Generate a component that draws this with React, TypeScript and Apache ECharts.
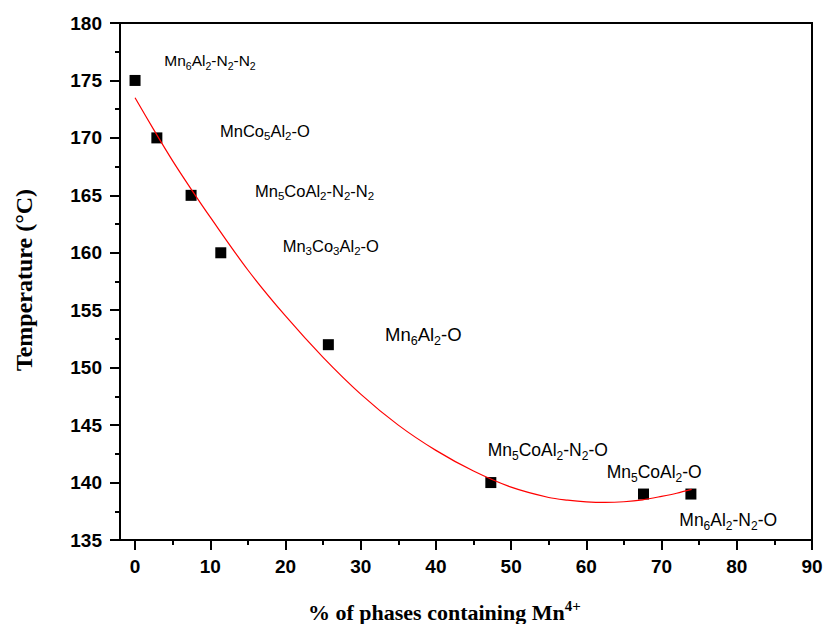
import React, { useEffect, useRef } from "react";
import * as echarts from "echarts";

// ---- data ----
const xTicks = [0, 10, 20, 30, 40, 50, 60, 70, 80, 90];
const xMinorTicks = [5, 15, 25, 35, 45, 55, 65, 75, 85];
const phaseMn4 = [0, 2.9, 7.45, 11.4, 25.7, 47.3, 67.6, 73.9];
const temperature = [175, 170, 165, 160, 152, 140, 139, 139];
const samples = [
  "Mn_6Al_2-N_2-N_2",
  "MnCo_5Al_2-O",
  "Mn_5CoAl_2-N_2-N_2",
  "Mn_3Co_3Al_2-O",
  "Mn_6Al_2-O",
  "Mn_5CoAl_2-N_2-O",
  "Mn_5CoAl_2-O",
  "Mn_6Al_2-N_2-O",
];
const fitX = [0, 2.5, 5, 7.5, 10, 15, 20, 25, 30, 35, 40, 45, 50, 55, 57.5, 60, 62.5, 65, 67.5, 70, 72, 74];
const fitY = [173.5, 170.7, 168.0, 165.5, 163.1, 158.5, 154.5, 150.9, 147.7, 145.0, 142.8, 141.0, 139.6, 138.7, 138.47, 138.32, 138.27, 138.33, 138.5, 138.8, 139.07, 139.4];
const xTitle = "% of phases containing Mn";
const xTitleSup = "4+";
const yTitle = "Temperature (°C)";

// ---- layout (pixels) : [left, baseline, fontSize, subSize]
const labelLayout: number[][] = [
  [164.3, 65.7, 15.5, 10.5],
  [220, 136.7, 16.5, 11.5],
  [255, 196.7, 16.5, 11.5],
  [282.7, 251.7, 16.5, 11.5],
  [385, 340.7, 18.5, 12.5],
  [487.7, 455.7, 17.5, 12],
  [606.7, 478.3, 17.5, 12],
  [679.3, 526, 17.5, 12],
];

const SANS = "'Liberation Sans', Arial, sans-serif";
const SERIF = "'Liberation Serif', 'Times New Roman', serif";

function subLabel(str: string, left: number, baseline: number, f: number, s: number) {
  const parts = str.split(/_(\d)/);
  const text = parts
    .map((t, i) => (t ? `{${i % 2 ? "s" : "m"}|${t}}` : ""))
    .join("");
  const L = 2 * f;
  const pt = 2 * (0.3465 * (f - s) + 0.23 * f);
  return {
    type: "text",
    x: left,
    y: baseline - L / 2 - 0.3465 * f,
    z: 100,
    style: {
      text,
      align: "left",
      verticalAlign: "top",
      fill: "#000",
      rich: {
        m: { fontSize: f, lineHeight: L, fontFamily: SANS, fill: "#000" },
        s: { fontSize: s, lineHeight: s, fontFamily: SANS, fill: "#000", padding: [pt, 0, 0, 0] },
      },
    },
  };
}

function xTitleGraphic() {
  const f = 22;
  const s = 15;
  const L = 2 * f;
  const baseline = 620;
  const pb = 2 * (8.5 - 0.3375 * (f - s));
  return {
    type: "text",
    x: 308,
    y: baseline - L / 2 - 0.3375 * f,
    z: 100,
    style: {
      text: `{m|${xTitle}}{p|${xTitleSup}}`,
      align: "left",
      verticalAlign: "top",
      fill: "#000",
      rich: {
        m: { fontSize: f, lineHeight: L, fontFamily: SERIF, fontWeight: "bold", fill: "#000" },
        p: { fontSize: s, lineHeight: s, fontFamily: SERIF, fontWeight: "bold", fill: "#000", padding: [0, 0, pb, 0] },
      },
    },
  };
}

export default function App() {
  const ref = useRef<HTMLDivElement>(null);
  useEffect(() => {
    if (!ref.current) return;
    const chart = echarts.init(ref.current, undefined, { renderer: "svg" });
    const axisLabelStyle = {
      fontSize: 19,
      fontWeight: "bold",
      fontFamily: SANS,
      color: "#000",
    };
    const graphics: any[] = samples.map((s, i) =>
      subLabel(s, labelLayout[i][0], labelLayout[i][1], labelLayout[i][2], labelLayout[i][3])
    );
    graphics.push(xTitleGraphic());
    graphics.push({
      type: "text",
      x: 24,
      y: 280,
      rotation: Math.PI / 2,
      z: 100,
      style: {
        text: yTitle,
        align: "center",
        verticalAlign: "middle",
        fill: "#000",
        fontSize: 24,
        fontWeight: "bold",
        fontFamily: SERIF,
      },
    });
    chart.setOption({
      animation: false,
      backgroundColor: "#fff",
      grid: {
        left: 120,
        right: 12,
        top: 23,
        bottom: 84,
        show: true,
        borderColor: "#000",
        borderWidth: 2,
        backgroundColor: "transparent",
        outerBoundsMode: "none",
      },
      xAxis: [
        {
          type: "value",
          position: "bottom",
          min: -2,
          max: 90,
          axisLine: { show: true, onZero: false, lineStyle: { color: "#000", width: 2 } },
          axisTick: { show: true, length: 10, customValues: xTicks, lineStyle: { color: "#000", width: 2 } },
          axisLabel: { ...axisLabelStyle, margin: 17, customValues: xTicks },
          splitLine: { show: false },
        },
        {
          type: "value",
          position: "bottom",
          min: -2,
          max: 90,
          axisLine: { show: false },
          axisTick: { show: true, length: 5, customValues: xMinorTicks, lineStyle: { color: "#000", width: 2 } },
          axisLabel: { show: false },
          splitLine: { show: false },
        },
      ],
      yAxis: {
        type: "value",
        min: 135,
        max: 180,
        interval: 5,
        axisLine: { show: true, onZero: false, lineStyle: { color: "#000", width: 2 } },
        axisTick: { show: true, length: 10, lineStyle: { color: "#000", width: 2 } },
        minorTick: { show: true, splitNumber: 2, length: 5, lineStyle: { color: "#000", width: 2 } },
        axisLabel: { ...axisLabelStyle, margin: 18 },
        splitLine: { show: false },
        minorSplitLine: { show: false },
      },
      series: [
        {
          type: "scatter",
          xAxisIndex: 0,
          symbol: "rect",
          symbolSize: 11,
          itemStyle: { color: "#000", opacity: 1 },
          data: phaseMn4.map((x, i) => [x, temperature[i]]),
          z: 2,
        },
        {
          type: "line",
          xAxisIndex: 0,
          smooth: 0.3,
          showSymbol: false,
          lineStyle: { color: "#ff0000", width: 1.2 },
          data: fitX.map((x, i) => [x, fitY[i]]),
          z: 3,
        },
      ],
      graphic: graphics,
    });
    return () => chart.dispose();
  }, []);
  return (
    <div
      ref={ref}
      style={{ position: "absolute", left: 0, top: 0, width: 824, height: 624 }}
    />
  );
}
